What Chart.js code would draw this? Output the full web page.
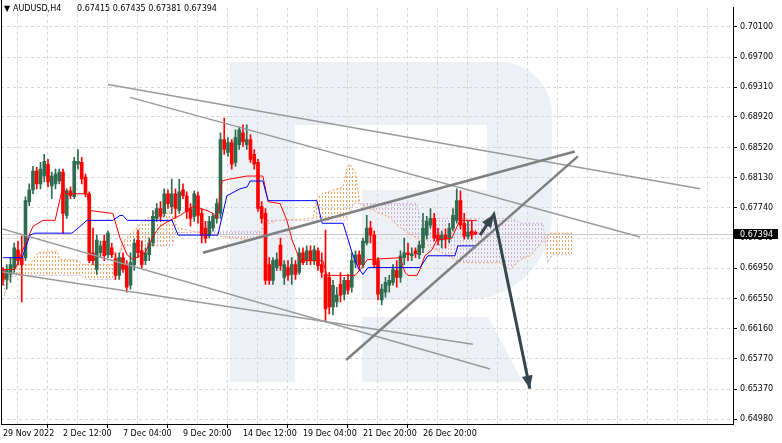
<!DOCTYPE html>
<html lang="en">
<head>
<meta charset="UTF-8">
<title>AUDUSD H4</title>
<script src="https://cdn.jsdelivr.net/npm/chart.js@4"></script>
<style>
    body { margin: 0; background: #fff; }
    canvas { display: block; }
</style>
</head>
<body>
<canvas id="chart" width="782" height="443"></canvas>
<script>
const symbolName = "AUDUSD,H4";

// H4 candles, one per bar (index 0 = 29 Nov 2022 20:00)
const openP = [0.66918,0.66802,0.66866,0.66956,0.67187,0.67085,0.67085,0.67816,0.67970,0.68214,
    0.68047,0.68150,0.68304,0.68021,0.68047,0.68085,0.68201,0.67636,0.67957,0.67880,
    0.68304,0.68329,0.68137,0.67919,0.67149,0.66931,0.67149,0.67303,0.67123,0.67213,
    0.67072,0.66854,0.67085,0.66995,0.66725,0.66995,0.67316,0.67174,0.67046,0.67123,
    0.67277,0.67598,0.67726,0.67662,0.67919,0.67752,0.67919,0.67700,0.67970,0.67893,
    0.67726,0.67623,0.67893,0.67662,0.67470,0.67380,0.67470,0.67598,0.67662,0.68624,
    0.68458,0.68586,0.68329,0.68560,0.68714,0.68560,0.68624,0.68432,0.68329,0.67752,
    0.67662,0.66995,0.66789,0.66956,0.67251,0.66828,0.66956,0.66866,0.66995,0.66892,
    0.67149,0.67046,0.67174,0.67046,0.67174,0.66995,0.66866,0.66828,0.66443,0.66507,
    0.66738,0.66610,0.66789,0.66700,0.67020,0.67123,0.66995,0.67277,0.67470,0.67380,
    0.67046,0.66533,0.66635,0.66725,0.66764,0.66918,0.66828,0.67085,0.67149,0.67110,
    0.67174,0.67123,0.67213,0.67380,0.67508,0.67598,0.67380,0.67316,0.67380,0.67328,
    0.67470,0.67572,0.67829,0.67534,0.67367,0.67431,0.67415];
const highP = [0.66956,0.66995,0.67085,0.67277,0.67303,0.67367,0.67880,0.68047,0.68278,0.68265,
    0.68329,0.68432,0.68368,0.68201,0.68239,0.68239,0.68239,0.67983,0.68008,0.68393,
    0.68496,0.68393,0.68175,0.67944,0.67470,0.67380,0.67303,0.67380,0.67431,0.67277,
    0.67149,0.67149,0.67149,0.67046,0.67149,0.67328,0.67444,0.67303,0.67213,0.67341,
    0.67700,0.67790,0.67816,0.67983,0.67970,0.68111,0.67983,0.68111,0.68047,0.67944,
    0.67790,0.67957,0.67944,0.67726,0.67559,0.67623,0.67662,0.67854,0.68714,0.68907,
    0.68650,0.68624,0.68753,0.68791,0.68817,0.68817,0.68689,0.68496,0.68368,0.67816,
    0.67726,0.67085,0.67085,0.67149,0.67341,0.67046,0.67046,0.67085,0.67046,0.67213,
    0.67213,0.67239,0.67239,0.67239,0.67213,0.67149,0.67444,0.66892,0.66789,0.66700,
    0.66892,0.66828,0.66866,0.67149,0.67174,0.67174,0.67341,0.67636,0.67559,0.67431,
    0.67085,0.66738,0.66828,0.66854,0.66995,0.67046,0.67174,0.67341,0.67277,0.67213,
    0.67213,0.67303,0.67662,0.67623,0.67726,0.67662,0.67470,0.67431,0.67457,0.67534,
    0.67726,0.67983,0.67957,0.67662,0.67572,0.67572,0.67435];
const lowP = [0.66725,0.66674,0.66764,0.66892,0.66995,0.66507,0.67046,0.67765,0.67919,0.67983,
    0.67983,0.68073,0.68008,0.67854,0.67983,0.68047,0.67405,0.67598,0.67854,0.67854,
    0.68239,0.68047,0.67880,0.67020,0.66995,0.66866,0.67085,0.67046,0.67085,0.67085,
    0.66802,0.66802,0.66892,0.66635,0.66674,0.66918,0.67085,0.66943,0.66995,0.67046,
    0.67239,0.67559,0.67559,0.67623,0.67726,0.67662,0.67598,0.67662,0.67854,0.67598,
    0.67495,0.67559,0.67534,0.67277,0.67277,0.67341,0.67431,0.67534,0.67598,0.68432,
    0.68406,0.68239,0.68278,0.68496,0.68535,0.68496,0.68329,0.68239,0.67688,0.67534,
    0.66738,0.66738,0.66738,0.66918,0.66918,0.66738,0.66789,0.66738,0.66802,0.66866,
    0.66995,0.66995,0.66995,0.66995,0.66918,0.66828,0.66250,0.66353,0.66340,0.66443,
    0.66507,0.66533,0.66610,0.66635,0.66956,0.66918,0.66956,0.67251,0.67277,0.66956,
    0.66533,0.66468,0.66571,0.66635,0.66725,0.66700,0.66764,0.66995,0.67046,0.67046,
    0.67085,0.67072,0.67149,0.67328,0.67470,0.67303,0.67251,0.67213,0.67213,0.67277,
    0.67431,0.67534,0.67457,0.67328,0.67328,0.67328,0.67381];
const closeP = [0.66802,0.66918,0.66995,0.67213,0.67046,0.66995,0.67829,0.67970,0.68214,0.68047,
    0.68239,0.68342,0.68073,0.68150,0.68175,0.68201,0.67662,0.67957,0.67893,0.68342,
    0.68342,0.68111,0.67919,0.67046,0.67046,0.67316,0.67239,0.67110,0.67405,0.67123,
    0.66854,0.67085,0.66931,0.66700,0.67020,0.67277,0.67149,0.66995,0.67149,0.67277,
    0.67623,0.67726,0.67623,0.67919,0.67790,0.67919,0.67726,0.67944,0.67893,0.67688,
    0.67598,0.67919,0.67636,0.67380,0.67341,0.67559,0.67623,0.67790,0.68624,0.68496,
    0.68586,0.68304,0.68650,0.68753,0.68599,0.68624,0.68368,0.68304,0.67726,0.67598,
    0.66789,0.66789,0.67046,0.67059,0.66982,0.66995,0.66854,0.66995,0.66866,0.67149,
    0.67020,0.67174,0.67046,0.67187,0.66982,0.66892,0.66417,0.66443,0.66725,0.66597,
    0.66597,0.66789,0.66661,0.67046,0.67123,0.66995,0.67303,0.67470,0.67380,0.66995,
    0.66610,0.66674,0.66764,0.66789,0.66931,0.66828,0.67110,0.67149,0.67123,0.67136,
    0.67136,0.67251,0.67470,0.67559,0.67598,0.67341,0.67316,0.67380,0.67328,0.67470,
    0.67636,0.67829,0.67508,0.67367,0.67418,0.67380,0.67394];

// time axis labels, every 16 bars
const labelBars = [0, 16, 32, 48, 64, 80, 96, 112];
const timeLabels = ["29 Nov 2022", "2 Dec 12:00", "7 Dec 04:00", "9 Dec 20:00",
    "14 Dec 12:00", "19 Dec 04:00", "21 Dec 20:00", "26 Dec 20:00"];

const priceTicks = [0.70100, 0.69700, 0.69310, 0.68920, 0.68520, 0.68130, 0.67740,
    0.67340, 0.66950, 0.66550, 0.66160, 0.65770, 0.65370, 0.64980];
const priceMin = 0.64916, priceMax = 0.70344;
const barMin = -0.53, barMax = 194.67;

// Ichimoku lines (bar position, price)
const tenkanX = [0,3.2,5.3,8,10.7,13.9,16,16.8,22.4,23.2,29.3,31.2,33.1,34.7,37.9,40,41.9,44.5,47.2,50.7,
    54.4,56,57.1,58.4,60.5,65.1,69.3,70.7,73.9,75.7,77.1,78.4,79.2,85.3,86.4,93.9,95.7,97.1,105.9,107.2,
    108,110.4,111.2,112.5,114.4,115.7,119.7,121.1,121.9,126.4];
const tenkan = [0.66931,0.66931,0.67187,0.67495,0.67572,0.67572,0.68021,0.67919,0.67919,0.67700,
    0.67662,0.67341,0.67123,0.67059,0.67149,0.67367,0.67495,0.67572,0.67636,0.67752,
    0.67700,0.67662,0.67598,0.68085,0.68111,0.68150,0.68150,0.67816,0.67790,0.67572,
    0.67316,0.67149,0.67046,0.67046,0.66854,0.66854,0.66956,0.67059,0.67085,0.66892,
    0.66854,0.66854,0.66931,0.67110,0.67187,0.67316,0.67341,0.67495,0.67572,0.67572];
const kijunX = [0,5.1,7.2,8.5,18.4,20,22.4,29.3,31.2,32,33.1,45.1,46.7,57.3,59.7,63.2,65.1,65.9,69.3,70.7,
    83.7,85.1,90.7,93.1,94.7,96,97.3,111.2,113.3,120.5,121.3,126.4];
const kijun = [0.67085,0.67085,0.67380,0.67405,0.67405,0.67470,0.67572,0.67572,0.67636,0.67636,
    0.67572,0.67572,0.67380,0.67380,0.67893,0.67983,0.68008,0.68085,0.68085,0.67829,
    0.67829,0.67534,0.67534,0.67149,0.66956,0.66866,0.66956,0.66956,0.67110,0.67110,
    0.67239,0.67239];
const spanAX = [0,2.7,7.2,9.3,14.4,15.2,19.7,21.3,30.4,31.7,34.7,37.3,39.7,40.5,44,45.1,46.7,50.4,55.7,65.9,
    68,69.9,73.1,82.7,83.7,85.1,90.7,91.7,92.5,93.9,95.2,100.5,102.7,105.1,108,111.2,114.4,118.7,121.1,122.4,
    132.5,135.2,137.9,140.5,143.2,145.9,152];
const spanA = [0.66533,0.66982,0.66995,0.67149,0.67174,0.67059,0.67059,0.66995,0.66995,0.67277,
    0.67431,0.67559,0.67623,0.67700,0.67700,0.67636,0.67470,0.67431,0.67380,0.67316,
    0.67341,0.67508,0.67572,0.67598,0.67854,0.67919,0.68008,0.68239,0.68304,0.68201,
    0.67790,0.67662,0.67623,0.67508,0.67405,0.67316,0.67213,0.67110,0.67046,0.67020,
    0.67020,0.66931,0.67059,0.67110,0.67251,0.67405,0.67405];
const spanBX = [0,4.5,21.3,22.4,29.9,31.2,33.1,45.1,45.9,56,68.5,69.9,91.2,93.9,110.4,111.2,136,137.9,144,145.3,
    146.4,152];
const spanB = [0.66828,0.66854,0.66854,0.66802,0.66802,0.67149,0.67239,0.67239,0.67405,0.67431,
    0.67431,0.67572,0.67572,0.67790,0.67790,0.67598,0.67598,0.67534,0.67534,0.67020,
    0.67123,0.67123];

// drawn analysis lines: [bar1, price1, bar2, price2]
const thinLines = [
    [28.0, 0.69343, 185.9, 0.67983],
    [33.9, 0.69176, 169.9, 0.67354],
    [-0.8, 0.67469, 129.9, 0.65634],
    [-0.8, 0.66905, 125.3, 0.65955]
];
const thickLines = [
    [53.3, 0.67149, 152.5, 0.68470],
    [91.5, 0.65750, 153.3, 0.68406]
];
const arrowX = [127.2, 130.9, 140.5];
const arrowP = [0.67380, 0.67649, 0.65378];

const bullColor = '#2f6b4f';
const bearColor = '#ff0000';
const arrowColor = '#36464f';
const fontFam = '"DejaVu Sans", sans-serif';

const canvas = document.getElementById('chart');
const mainCtx = canvas.getContext('2d');

function hatch(color) {
    const c = document.createElement('canvas');
    c.width = 3; c.height = 4;
    const g = c.getContext('2d');
    g.fillStyle = color;
    g.fillRect(1, 0, 1, 2);
    return mainCtx.createPattern(c, 'repeat');
}
const orangeHatch = hatch('#f4a460');
const purpleHatch = hatch('#cfb0d8');

const bars = closeP.map((_, i) => i);
const candleColors = closeP.map((c, i) => c >= openP[i] ? bullColor : bearColor);
const lastClose = closeP[closeP.length - 1];

function pts(xs, ys) { return xs.map((x, i) => ({x: x, y: ys[i]})); }

const datasets = [
    {
        type: 'line', label: 'Senkou A', data: pts(spanAX, spanA),
        borderColor: '#f4a460', borderWidth: 1, borderDash: [2, 2], pointRadius: 0,
        fill: {target: '+1', above: orangeHatch, below: purpleHatch}, order: 20
    },
    {
        type: 'line', label: 'Senkou B', data: pts(spanBX, spanB),
        borderColor: '#cfb0d8', borderWidth: 1, borderDash: [2, 2], pointRadius: 0,
        fill: false, order: 19
    },
    {
        type: 'bar', label: 'wicks', data: bars.map(i => ({x: i, y: [lowP[i], highP[i]]})),
        backgroundColor: candleColors, barThickness: 1, grouped: false, order: 15
    },
    {
        type: 'bar', label: 'bodies', data: bars.map(i => ({x: i, y: [openP[i], closeP[i]]})),
        backgroundColor: candleColors, barThickness: 3, minBarLength: 1, grouped: false, order: 14
    },
    {
        type: 'line', label: 'Tenkan', data: pts(tenkanX, tenkan),
        borderColor: '#ff0000', borderWidth: 1, pointRadius: 0, fill: false, order: 10
    },
    {
        type: 'line', label: 'Kijun', data: pts(kijunX, kijun),
        borderColor: '#0000ff', borderWidth: 1, pointRadius: 0, fill: false, order: 9
    }
];
thinLines.forEach((l, k) => datasets.push({
    type: 'line', label: 'thin' + k, data: [{x: l[0], y: l[1]}, {x: l[2], y: l[3]}],
    borderColor: '#9a9a9a', borderWidth: 1.5, pointRadius: 0, fill: false, order: 5
}));
thickLines.forEach((l, k) => datasets.push({
    type: 'line', label: 'thick' + k, data: [{x: l[0], y: l[1]}, {x: l[2], y: l[3]}],
    borderColor: '#808080', borderWidth: 2.5, pointRadius: 0, fill: false, order: 4
}));
datasets.push({
    type: 'line', label: 'arrow', data: pts(arrowX, arrowP),
    borderColor: arrowColor, borderWidth: 3, pointRadius: 0, fill: false, order: 1
});

const watermark = {
    id: 'watermark',
    beforeDraw(chart) {
        const ctx = chart.ctx;
        ctx.save();
        ctx.fillStyle = '#ffffff';
        ctx.fillRect(0, 0, chart.width, chart.height);
        ctx.fillStyle = '#edf1f6';
        ctx.fillRect(230, 62, 65, 320);
        ctx.beginPath();
        ctx.moveTo(295, 62);
        ctx.lineTo(500, 62);
        ctx.arcTo(552, 62, 552, 114, 52);
        ctx.lineTo(552, 215);
        ctx.arcTo(552, 300, 467, 300, 85);
        ctx.lineTo(362, 300);
        ctx.lineTo(362, 190);
        ctx.lineTo(487, 190);
        ctx.lineTo(487, 125);
        ctx.lineTo(295, 125);
        ctx.closePath();
        ctx.fill();
        ctx.beginPath();
        ctx.moveTo(362, 317);
        ctx.lineTo(488, 317);
        ctx.lineTo(523, 382);
        ctx.lineTo(362, 382);
        ctx.closePath();
        ctx.fill();
        ctx.restore();
    },
    beforeDatasetsDraw(chart) {
        // bid line
        const ctx = chart.ctx, a = chart.chartArea;
        const y = Math.round(chart.scales.y.getPixelForValue(lastClose)) + 0.5;
        ctx.save();
        ctx.strokeStyle = '#c8c8c8';
        ctx.lineWidth = 1;
        ctx.beginPath();
        ctx.moveTo(a.left, y);
        ctx.lineTo(a.right, y);
        ctx.stroke();
        ctx.restore();
    },
    afterDatasetsDraw(chart) {
        // arrow heads
        const ctx = chart.ctx, sx = chart.scales.x, sy = chart.scales.y;
        const px = arrowX.map(v => sx.getPixelForValue(v));
        const py = arrowP.map(v => sy.getPixelForValue(v));
        ctx.save();
        ctx.fillStyle = arrowColor;
        for (let k = 1; k < px.length; k++) {
            const ang = Math.atan2(py[k] - py[k - 1], px[k] - px[k - 1]);
            const len = 13, half = 5.5;
            const bx = px[k] - len * Math.cos(ang), by = py[k] - len * Math.sin(ang);
            ctx.beginPath();
            ctx.moveTo(px[k], py[k]);
            ctx.lineTo(bx + half * Math.sin(ang), by - half * Math.cos(ang));
            ctx.lineTo(bx - half * Math.sin(ang), by + half * Math.cos(ang));
            ctx.closePath();
            ctx.fill();
        }
        ctx.restore();
    },
    afterDraw(chart) {
        const ctx = chart.ctx, a = chart.chartArea;
        ctx.save();
        // left frame
        ctx.strokeStyle = '#000';
        ctx.lineWidth = 1;
        ctx.beginPath();
        ctx.moveTo(1.5, 0);
        ctx.lineTo(1.5, a.bottom);
        ctx.stroke();
        // title
        ctx.fillStyle = '#000';
        ctx.font = '8px ' + fontFam;
        ctx.textBaseline = 'alphabetic';
        ctx.textAlign = 'left';
        ctx.fillText('\u25BC', 4, 11);
        ctx.fillText(symbolName, 13, 11);
        const n = closeP.length - 1;
        ctx.fillText([openP[n], highP[n], lowP[n], closeP[n]].map(v => v.toFixed(5)).join(' '), 77, 11);
        // current price label
        const y = Math.round(chart.scales.y.getPixelForValue(lastClose));
        ctx.fillStyle = '#000';
        ctx.fillRect(a.right + 1, y - 5, 44, 10);
        ctx.fillStyle = '#fff';
        ctx.textBaseline = 'middle';
        ctx.fillText(lastClose.toFixed(5), a.right + 7, y + 0.5);
        ctx.restore();
    }
};

new Chart(canvas, {
    type: 'bar',
    data: {datasets: datasets},
    options: {
        responsive: false,
        animation: false,
        devicePixelRatio: 1,
        layout: {padding: {left: 1, top: 1, right: 0, bottom: 0}},
        plugins: {legend: {display: false}, tooltip: {enabled: false}},
        scales: {
            x: {
                type: 'linear', min: barMin, max: barMax, offset: false,
                afterBuildTicks: s => {
                    const t = [];
                    for (let b = 0; b <= 192; b += 8) t.push({value: b});
                    s.ticks = t;
                },
                afterFit: s => { s.height = 19; },
                ticks: {
                    autoSkip: false, maxRotation: 0, minRotation: 0, align: 'start', padding: 1,
                    color: '#000', font: {family: fontFam, size: 8},
                    callback: v => {
                        const k = labelBars.indexOf(v);
                        return k >= 0 ? timeLabels[k] : '';
                    }
                },
                grid: {
                    color: '#d6d6d6', tickLength: 4,
                    tickColor: c => (c.tick && labelBars.includes(c.tick.value)) ? '#000' : 'rgba(0,0,0,0)'
                },
                border: {display: true, color: '#000', width: 1, dash: [3, 3]}
            },
            y: {
                position: 'right', min: priceMin, max: priceMax,
                afterBuildTicks: s => { s.ticks = priceTicks.map(v => ({value: v})); },
                afterFit: s => { s.width = 49; },
                ticks: {
                    padding: 3, color: '#000', font: {family: fontFam, size: 8},
                    callback: v => v.toFixed(5)
                },
                grid: {color: '#d6d6d6', tickLength: 4, tickColor: '#000'},
                border: {display: true, color: '#000', width: 1, dash: [3, 3]}
            }
        }
    },
    plugins: [watermark]
});
</script>
</body>
</html>
